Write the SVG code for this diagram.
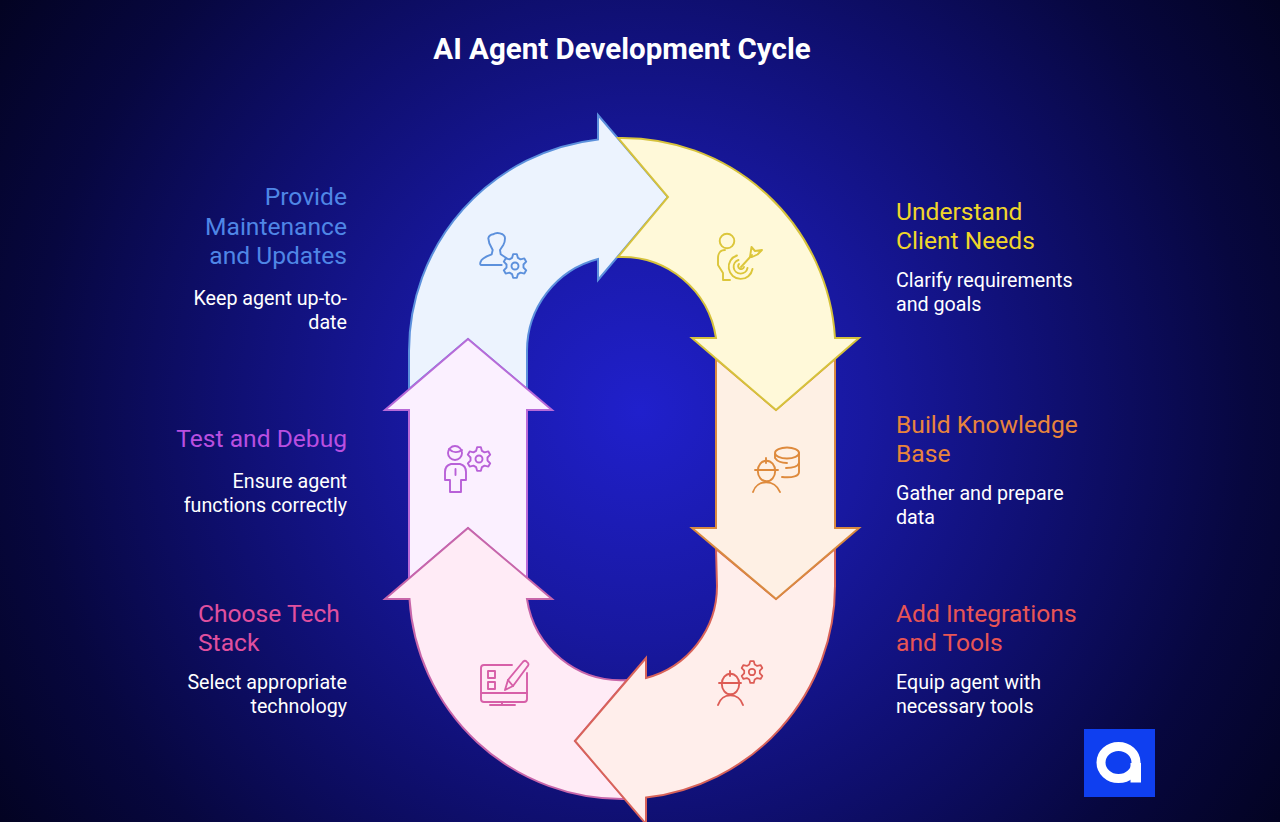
<svg xmlns="http://www.w3.org/2000/svg" width="1280" height="822" viewBox="0 0 1280 822">
<style>
.t{font-family:Roboto,"Liberation Sans",sans-serif;font-size:24.6px}
.d{font-family:Roboto,"Liberation Sans",sans-serif;font-size:19.7px;fill:#fff}
.e{text-anchor:end}
.a{stroke-width:2;stroke-linejoin:miter}
.i{fill:none;stroke-width:1.9;stroke-linecap:round;stroke-linejoin:round}
</style>
<defs>
<radialGradient id="bg" gradientUnits="userSpaceOnUse" cx="640" cy="411" r="760">
<stop offset="0" stop-color="#2020cc"/>
<stop offset="0.3" stop-color="#18189f"/>
<stop offset="0.55" stop-color="#0f0f70"/>
<stop offset="0.8" stop-color="#07073f"/>
<stop offset="1" stop-color="#030322"/>
</radialGradient>
<g id="gear">
<path d="M-2.94-8.08L-1.88-11.85L1.88-11.85L2.94-8.08L5.53-6.59L9.33-7.55L11.2-4.3L8.47-1.49L8.47 1.49L11.2 4.3L9.33 7.55L5.53 6.59L2.94 8.08L1.88 11.85L-1.88 11.85L-2.94 8.08L-5.53 6.59L-9.33 7.55L-11.2 4.3L-8.47 1.49L-8.47-1.49L-11.2-4.3L-9.33-7.55L-5.53-6.59Z"/>
<circle r="3.5"/>
</g>
</defs>
<rect width="1280" height="822" fill="url(#bg)"/>
<text x="622" y="59" text-anchor="middle" font-family="Roboto,'Liberation Sans',sans-serif" font-size="29.5" font-weight="700" fill="#fff">AI Agent Development Cycle</text>
<g id="connectors">
<path id="arrow-maintain" class="a" fill="#ecf3fe" stroke="#5c90dc" d="M409 389L468 339L527 389V351A95 95 0 0 1 598 259V280L668 197L598 115V139.400A213 213 0 0 0 409 351Z"/>
<path id="arrow-test" class="a" fill="#fbf0ff" stroke="#b86ad8" d="M409 578.500L468 528L527 578.500V410H552L468 339L385 410H409Z"/>
<path id="arrow-stack" class="a" fill="#ffebf6" stroke="#c766aa" d="M627 680A95 95 0 0 1 527 599H552L468 528L385 599H409.500A213 213 0 0 0 625 799L575 741Z"/>
<path id="arrow-integrations" class="a" fill="#ffeeeb" stroke="#d8635a" d="M716 549L776 599L835 549V586A213 213 0 0 1 646 797.600V824L575 741L646 658V678A95 95 0 0 0 717 586Z"/>
<path id="arrow-knowledge" class="a" fill="#fef0e4" stroke="#d98a40" d="M716 338V359L776 410L835 359V528H859L776 599L692 528H716Z"/>
<path id="arrow-understand" class="a" fill="#fff9d9" stroke="#d6c23c" d="M618 138A213 213 0 0 1 835 338H859L776 410L692 338H716A95 95 0 0 0 618 257L668 197Z"/>
</g>
<g id="node-understand">
<g class="i" stroke="#dcc63a">
<circle cx="727" cy="241" r="7.300"/>
<path d="M725 250C720 250 718 254 718 258V265L723 273V280H730"/>
<path d="M737 255.500A12 12 0 1 0 752.500 269"/>
<path d="M738.500 260A7 7 0 1 0 747.500 268"/>
<path d="M739 264A3 3 0 1 0 744 267"/>
<path d="M741 267L752 255"/>
<path d="M750 257L751.500 247L755 251L762 250L757.500 254.500L752 257Z"/>
</g>
<text class="t" x="896" y="220" fill="#f0d62a">Understand</text>
<text class="t" x="896" y="249" fill="#f0d62a">Client Needs</text>
<text class="d" x="896" y="287">Clarify requirements</text>
<text class="d" x="896" y="311">and goals</text>
</g>
<g id="node-knowledge">
<g class="i" stroke="#de8a3c">
<path d="M755 470H778"/>
<path d="M766 458V463"/>
<ellipse cx="766.500" cy="471" rx="8.700" ry="10.300"/>
<path d="M753 492C757 479 775 479 780 492"/>
<ellipse cx="787" cy="453" rx="12" ry="5.500"/>
<path d="M775 454V458C777 461 782 463 787 463"/>
<path d="M799 453V472C799 476 793 478 782 477"/>
<path d="M799 463C798 466 793 468 786 468"/>
</g>
<text class="t" x="896" y="433" fill="#e8843c">Build Knowledge</text>
<text class="t" x="896" y="462" fill="#e8843c">Base</text>
<text class="d" x="896" y="500">Gather and prepare</text>
<text class="d" x="896" y="524">data</text>
</g>
<g id="node-integrations">
<g class="i" stroke="#dd5c55">
<path d="M719 683H741"/>
<path d="M730 671V676"/>
<ellipse cx="730.500" cy="684" rx="8.700" ry="10.300"/>
<path d="M718 705C722 692 739 692 743 705"/>
<use href="#gear" transform="translate(752 672) scale(.92)"/>
</g>
<text class="t" x="896" y="622" fill="#e85555">Add Integrations</text>
<text class="t" x="896" y="651" fill="#e85555">and Tools</text>
<text class="d" x="896" y="689">Equip agent with</text>
<text class="d" x="896" y="713">necessary tools</text>
</g>
<g id="node-stack">
<g class="i" stroke="#d75fa8">
<path d="M512 665H484Q481 665 481 668V699Q481 702 484 702H524Q527 702 527 699V673"/>
<path d="M481 693H527"/>
<path d="M502 702V705M490 705H515"/>
<rect x="488" y="671" width="7" height="7"/>
<rect x="488" y="682" width="7" height="7"/>
<path d="M505 690L508 680L522 663Q525 659 527 662Q530 664 527 667L513 686Z"/>
<path d="M508 680L513 686"/>
</g>
<text class="t" x="198" y="622" fill="#e0509f">Choose Tech</text>
<text class="t" x="198" y="651" fill="#e0509f">Stack</text>
<text class="d e" x="347" y="689">Select appropriate</text>
<text class="d e" x="347" y="713">technology</text>
</g>
<g id="node-test">
<g class="i" stroke="#b860d8">
<circle cx="455" cy="453" r="7"/>
<path d="M449 449C453 453 458 453 462 450"/>
<path d="M451 464C447 465 445 468 445 472V480H450V492H461V480H466V472C466 468 464 465 460 464Z"/>
<path d="M455.500 469V475"/>
<use href="#gear" transform="translate(479 459)"/>
</g>
<text class="t e" x="347" y="447" fill="#b94fe0">Test and Debug</text>
<text class="d e" x="347" y="488">Ensure agent</text>
<text class="d e" x="347" y="512">functions correctly</text>
</g>
<g id="node-maintain">
<g class="i" stroke="#5c90dc">
<path d="M501.700 265H481.700Q479.300 265 480.700 261.700C481.500 258.500 487 256 491.700 254.300L492.700 250L489.300 243.300L488.300 238.300C489 235.500 491 234.500 493.300 234.300C495 233 498 232.800 500 233.300C503 234 505 236 505 238.300C505 241 504.500 243 503.300 245L500 250L500.700 254.300L506.700 258.300"/>
<use href="#gear" transform="translate(515 266)"/>
</g>
<text class="t e" x="347" y="205" fill="#4f86e6">Provide</text>
<text class="t e" x="347" y="235" fill="#4f86e6">Maintenance</text>
<text class="t e" x="347" y="264" fill="#4f86e6">and Updates</text>
<text class="d e" x="347" y="304.500">Keep agent up-to-</text>
<text class="d e" x="347" y="328.500">date</text>
</g>
<g id="logo">
<rect x="1084" y="729" width="71" height="68" fill="#0f3ff0"/>
<ellipse cx="1118.500" cy="762.500" rx="17.500" ry="16" fill="none" stroke="#fff" stroke-width="9"/>
<rect x="1130.500" y="763" width="10.500" height="19.500" fill="#fff"/>
</g>
</svg>
